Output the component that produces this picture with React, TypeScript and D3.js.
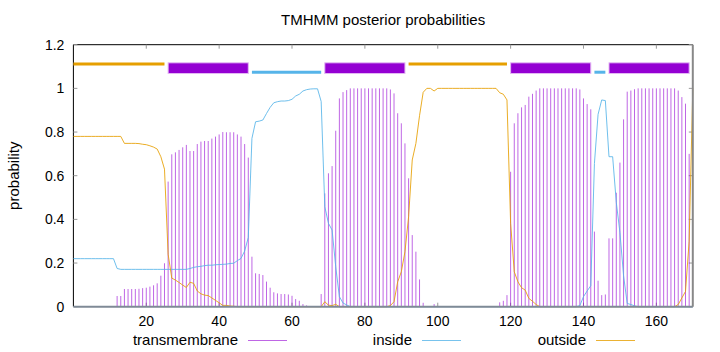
import React from 'react';
import * as d3 from 'd3';

// residue positions 0..170
const positions = d3.range(0, 171);

const transmembrane = [
  0, 0, 0, 0, 0, 0, 0, 0, 0, 0,
  0, 0, 0.049, 0.049, 0.081, 0.081, 0.081, 0.081, 0.082, 0.085,
  0.087, 0.092, 0.098, 0.107, 0.142, 0.199, 0.573, 0.698, 0.707, 0.718,
  0.73, 0.741, 0.713, 0.713, 0.745, 0.756, 0.759, 0.759, 0.77, 0.779,
  0.789, 0.8, 0.799, 0.799, 0.799, 0.789, 0.779, 0.745, 0.683, 0.229,
  0.153, 0.15, 0.145, 0.115, 0.087, 0.066, 0.061, 0.058, 0.058, 0.056,
  0.05, 0.035, 0.027, 0.012, 0.006, 0.003, 0.002, 0.002, 0.058, 0.519,
  0.611, 0.644, 0.806, 0.954, 0.983, 0.992, 1, 1, 1, 1,
  1, 1, 1, 1, 1, 1, 1, 0.995, 0.977, 0.886,
  0.84, 0.748, 0.588, 0.328, 0.252, 0.125, 0.018, 0, 0, 0.012,
  0, 0, 0, 0, 0, 0, 0, 0, 0, 0,
  0, 0, 0, 0, 0, 0, 0, 0.02, 0.027, 0.053,
  0.618, 0.84, 0.886, 0.913, 0.924, 0.962, 0.975, 0.99, 1, 1,
  1, 1, 1, 1, 1, 1, 1, 1, 1, 0.995,
  0.954, 0.928, 0.904, 0.344, 0.119, 0.053, 0.056, 0.313, 0.313, 0.522,
  0.66, 0.858, 0.985, 0.99, 0.996, 1, 1, 1, 1, 1,
  1, 1, 1, 1, 1, 1, 0.99, 0.96, 0.93, 0.7,
  0,
];

const inside = [
  0.22, 0.22, 0.22, 0.22, 0.22, 0.22, 0.22, 0.22, 0.22, 0.22,
  0.22, 0.22, 0.175, 0.171, 0.171, 0.171, 0.171, 0.171, 0.171, 0.171,
  0.171, 0.171, 0.171, 0.171, 0.171, 0.171, 0.171, 0.171, 0.171, 0.171,
  0.171, 0.171, 0.175, 0.18, 0.183, 0.185, 0.188, 0.19, 0.19, 0.192,
  0.193, 0.194, 0.195, 0.198, 0.199, 0.211, 0.221, 0.255, 0.317, 0.771,
  0.847, 0.85, 0.855, 0.885, 0.913, 0.934, 0.939, 0.942, 0.942, 0.944,
  0.95, 0.965, 0.973, 0.988, 0.994, 0.997, 0.998, 0.998, 0.94, 0.458,
  0.382, 0.351, 0.183, 0.046, 0.017, 0.008, 0, 0, 0, 0,
  0, 0, 0, 0, 0, 0, 0, 0, 0, 0,
  0, 0, 0, 0, 0, 0, 0, 0, 0, 0,
  0, 0, 0, 0, 0, 0, 0, 0, 0, 0,
  0, 0, 0, 0, 0, 0, 0, 0, 0, 0,
  0, 0, 0, 0, 0, 0, 0, 0, 0, 0,
  0, 0, 0, 0, 0, 0, 0, 0, 0, 0.005,
  0.046, 0.072, 0.096, 0.656, 0.881, 0.947, 0.944, 0.687, 0.687, 0.478,
  0.34, 0.142, 0.015, 0.01, 0.004, 0, 0, 0, 0, 0,
  0, 0, 0, 0, 0, 0, 0, 0, 0, 0,
  0,
];

const outside = [
  0.78, 0.78, 0.78, 0.78, 0.78, 0.78, 0.78, 0.78, 0.78, 0.78,
  0.78, 0.78, 0.78, 0.78, 0.748, 0.748, 0.748, 0.748, 0.747, 0.744,
  0.742, 0.737, 0.731, 0.722, 0.687, 0.63, 0.24, 0.131, 0.122, 0.111,
  0.099, 0.088, 0.112, 0.107, 0.072, 0.059, 0.053, 0.051, 0.04, 0.029,
  0.018, 0.006, 0.006, 0.003, 0.002, 0, 0, 0, 0, 0,
  0, 0, 0, 0, 0, 0, 0, 0, 0, 0,
  0, 0, 0, 0, 0, 0, 0, 0, 0, 0.023,
  0.007, 0.005, 0.011, 0, 0, 0, 0, 0, 0, 0,
  0, 0, 0, 0, 0, 0, 0, 0.005, 0.023, 0.114,
  0.16, 0.252, 0.412, 0.672, 0.748, 0.875, 0.982, 1, 1, 0.988,
  1, 1, 1, 1, 1, 1, 1, 1, 1, 1,
  1, 1, 1, 1, 1, 1, 1, 0.98, 0.973, 0.947,
  0.382, 0.16, 0.114, 0.087, 0.076, 0.038, 0.025, 0.01, 0, 0,
  0, 0, 0, 0, 0, 0, 0, 0, 0, 0,
  0, 0, 0, 0, 0, 0, 0, 0, 0, 0,
  0, 0, 0, 0, 0, 0, 0, 0, 0, 0,
  0, 0, 0, 0, 0, 0, 0.01, 0.04, 0.07, 0.3,
  1,
];

// predicted topology
const segments = [
  { type: 'outside', start: 0, end: 25 },
  { type: 'tm', start: 26, end: 48 },
  { type: 'inside', start: 49, end: 68 },
  { type: 'tm', start: 69, end: 91 },
  { type: 'outside', start: 92, end: 119 },
  { type: 'tm', start: 120, end: 142 },
  { type: 'inside', start: 143, end: 146 },
  { type: 'tm', start: 147, end: 169 },
];

const xTicks = [20, 40, 60, 80, 100, 120, 140, 160];
const yTicks = [0, 0.2, 0.4, 0.6, 0.8, 1, 1.2];
const yTickLabels = ['0', '0.2', '0.4', '0.6', '0.8', '1', '1.2'];
const legendLabels = ['transmembrane', 'inside', 'outside'];

const TM = '#9400d3';
const IN = '#56b4e9';
const OUT = '#e69f00';
const FONT = '"Liberation Sans", Arial, sans-serif';

export default function App() {
  const width = 720;
  const height = 352;
  const left = 73.4, right = 692.8, top = 44.7, bottom = 306.7;

  const x = d3.scaleLinear().domain([0, 170]).range([left, right]);
  const y = d3.scaleLinear().domain([0, 1.2]).range([bottom, top]);

  const line = (vals: number[]) =>
    d3.line<number>().x((_, i) => x(positions[i])).y(d => y(d))(vals) || '';

  const legendX = [
    { text: 238, line: [248, 287], color: TM, op: 0.6 },
    { text: 412, line: [422, 461], color: IN, op: 0.8 },
    { text: 586, line: [596, 635], color: OUT, op: 0.8 },
  ];

  return (
    <div style={{ position: 'absolute', left: 0, top: 0 }}>
      <svg width={width} height={height} style={{ display: 'block', background: '#fff' }} fontFamily={FONT}>
        <text x={(left + right) / 2} y={25} fontSize={15} textAnchor="middle">TMHMM posterior probabilities</text>
        <text transform={`translate(19,${(top + bottom) / 2}) rotate(-90)`} fontSize={15} textAnchor="middle">probability</text>

        {/* frame */}
        <line x1={left} x2={left} y1={top} y2={bottom} stroke="#000" strokeWidth={1} />
        <line x1={left} x2={right} y1={top} y2={top} stroke="#000" strokeWidth={1} />

        {/* ticks */}
        {yTicks.map((t, i) => (
          <g key={'y' + i}>
            <line x1={left} x2={left + 4} y1={y(t)} y2={y(t)} stroke="#999" />
            <line x1={right - 4} x2={right} y1={y(t)} y2={y(t)} stroke="#999" />
            <text x={left - 9} y={y(t) + 5} fontSize={14} textAnchor="end">{yTickLabels[i]}</text>
          </g>
        ))}
        {xTicks.map(t => (
          <g key={'x' + t}>
            <line x1={x(t)} x2={x(t)} y1={bottom} y2={bottom - 4} stroke="#999" />
            <line x1={x(t)} x2={x(t)} y1={top} y2={top + 4} stroke="#999" />
            <text x={x(t)} y={326} fontSize={14} textAnchor="middle">{t}</text>
          </g>
        ))}

        {/* transmembrane impulses */}
        {transmembrane.map((v, i) =>
          v > 0 ? (
            <line key={'tm' + i} x1={x(positions[i])} x2={x(positions[i])} y1={y(0)} y2={y(v)}
              stroke={TM} strokeOpacity={0.6} strokeWidth={1} />
          ) : null
        )}

        <path d={line(inside)} fill="none" stroke={IN} strokeOpacity={0.85} strokeWidth={1} />
        <path d={line(outside)} fill="none" stroke={OUT} strokeOpacity={0.85} strokeWidth={1} />

        {/* topology bar */}
        {segments.map((s, i) => {
          if (s.type === 'tm') {
            return (
              <rect key={'s' + i} x={x(s.start)} y={y(1.117)} width={x(s.end) - x(s.start)}
                height={y(1.068) - y(1.117)} fill={TM} stroke="#e3b8f3" strokeWidth={1} />
            );
          }
          const lvl = s.type === 'outside' ? 1.112 : 1.074;
          return (
            <line key={'s' + i} x1={x(s.start)} x2={x(s.end)} y1={y(lvl)} y2={y(lvl)}
              stroke={s.type === 'outside' ? OUT : IN} strokeWidth={3} />
          );
        })}

        {/* bottom and right border */}
        <line x1={left} x2={right} y1={bottom} y2={bottom} stroke="#7f8a96" strokeWidth={2} />
        <line x1={right} x2={right} y1={top} y2={bottom} stroke="#888" strokeWidth={2} />

        {/* legend */}
        {legendLabels.map((l, i) => (
          <g key={l}>
            <text x={legendX[i].text} y={345} fontSize={15} textAnchor="end">{l}</text>
            <line x1={legendX[i].line[0]} x2={legendX[i].line[1]} y1={340.5} y2={340.5}
              stroke={legendX[i].color} strokeOpacity={legendX[i].op} strokeWidth={1} />
          </g>
        ))}
      </svg>
    </div>
  );
}
